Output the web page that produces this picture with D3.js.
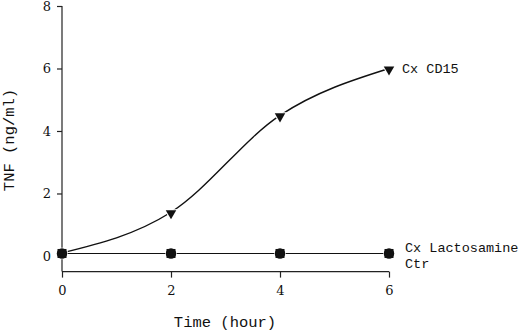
<!DOCTYPE html>
<html><head><meta charset="utf-8">
<script src="https://cdn.jsdelivr.net/npm/d3@7"></script>
<style>body{margin:0;background:#fff}</style>
</head><body>
<script>
const times = [0, 2, 4, 6];
const cd15 = [0.1, 1.4, 4.5, 6.0];
const lactosamine = [0.08, 0.08, 0.08, 0.08];
const ctr = [0.08, 0.08, 0.08, 0.08];
const xTicks = [0, 2, 4, 6];
const yTicks = [0, 2, 4, 6, 8];
const seriesNames = ["Cx CD15", "Cx Lactosamine", "Ctr"];

const W = 520, H = 332;
const svg = d3.select("body").append("svg").attr("width", W).attr("height", H);
const x = d3.scaleLinear().domain([0, 6]).range([62, 389]);
const y = d3.scaleLinear().domain([-0.5, 8]).range([271.6, 6]);

const serif = "'DejaVu Serif', serif";
const mono = "'Liberation Mono', 'DejaVu Sans Mono', monospace";

// axes
const yAxis = svg.append("g").attr("transform", `translate(${x(0)},0)`)
  .call(d3.axisLeft(y).tickValues(yTicks).tickSize(5).tickPadding(6).tickFormat(d3.format("d")));
const xAxis = svg.append("g").attr("transform", `translate(0,${y(-0.5)})`)
  .call(d3.axisBottom(x).tickValues(xTicks).tickSize(6).tickPadding(8).tickFormat(d3.format("d")));
[yAxis, xAxis].forEach(a => {
  a.attr("font-family", serif);
  a.select(".domain").attr("stroke", "#222").attr("stroke-width", 1.2);
  a.selectAll(".tick line").attr("stroke", "#222").attr("stroke-width", 1.2);
  a.selectAll("text").attr("font-family", serif).attr("font-size", 13).attr("fill", "#111");
});
yAxis.select(".domain").attr("d", `M0,${y(8)}V${y(-0.5)}`);
xAxis.select(".domain").attr("d", `M${x(0)},0H${x(6)}`);

// lines
const line = d3.line().x((d, i) => x(times[i])).y(d => y(d)).curve(d3.curveMonotoneX);
svg.append("path").datum(lactosamine).attr("d", line).attr("fill", "none").attr("stroke", "#111").attr("stroke-width", 1.2);
svg.append("path").datum(cd15).attr("d", line).attr("fill", "none").attr("stroke", "#111").attr("stroke-width", 1.4);

// markers
svg.append("g").selectAll("rect").data(lactosamine).join("rect")
  .attr("x", (d, i) => x(times[i]) - 4.5).attr("y", d => y(d) - 4.5)
  .attr("width", 9).attr("height", 9).attr("fill", "#111").attr("stroke", "#fff").attr("stroke-width", 2.5);
svg.append("g").selectAll("circle").data(ctr).join("circle")
  .attr("cx", (d, i) => x(times[i])).attr("cy", d => y(d)).attr("r", 5.2).attr("fill", "#111");
svg.append("g").selectAll("rect").data(lactosamine).join("rect")
  .attr("x", (d, i) => x(times[i]) - 4.5).attr("y", d => y(d) - 4.5)
  .attr("width", 9).attr("height", 9).attr("fill", "#111");
const tri = d3.symbol().type(d3.symbolTriangle).size(48);
svg.append("g").selectAll("path").data(cd15.slice(1)).join("path")
  .attr("d", tri)
  .attr("transform", (d, i) => `translate(${x(times[i + 1])},${y(d) + 1}) rotate(180)`)
  .attr("fill", "#111").attr("stroke", "#fff").attr("stroke-width", 2).attr("paint-order", "stroke");

// series labels
svg.append("text").attr("x", 402).attr("y", y(6) + 4.5).text(seriesNames[0])
  .attr("font-family", mono).attr("font-size", 13.5).attr("fill", "#111");
svg.append("text").attr("x", 405).attr("y", 251.5).text(seriesNames[1])
  .attr("font-family", mono).attr("font-size", 13.5).attr("fill", "#111");
svg.append("text").attr("x", 405).attr("y", 268).text(seriesNames[2])
  .attr("font-family", mono).attr("font-size", 13.5).attr("fill", "#111");

// axis titles
svg.append("text").attr("x", 225).attr("y", 327).attr("text-anchor", "middle").text("Time (hour)")
  .attr("font-family", mono).attr("font-size", 15.5).attr("fill", "#111");
svg.append("text").attr("transform", `translate(14,140) rotate(-90)`).attr("text-anchor", "middle").text("TNF (ng/ml)")
  .attr("font-family", mono).attr("font-size", 15.5).attr("fill", "#111");
</script>
</body></html>
